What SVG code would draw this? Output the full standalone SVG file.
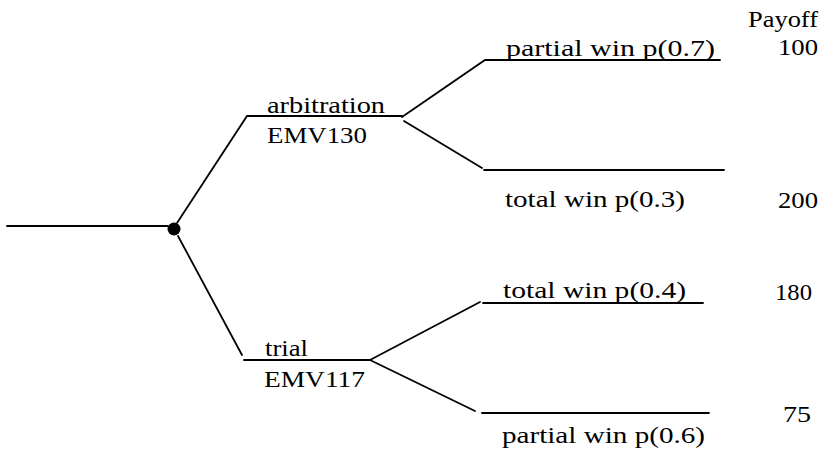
<svg xmlns="http://www.w3.org/2000/svg" width="823" height="460" viewBox="0 0 823 460">
  <style>
    .edge { stroke: #000; stroke-width: 1.8; fill: none; stroke-linecap: round; }
    text { font-family: "Liberation Serif", "Times New Roman", Times, serif; font-size: 24px; fill: #000; }
  </style>
  <rect width="823" height="460" fill="#fff"/>

  <!-- branches of the decision tree -->
  <g id="connectors">
    <path class="edge" d="M7,226 H168"/>
    <path class="edge" d="M177,223 L247,116 H402"/>
    <path class="edge" d="M178,236 L242,355"/>
    <path class="edge" d="M244,360 H370"/>
    <path class="edge" d="M402,117 L485,60 H720"/>
    <path class="edge" d="M404,121 L482,168"/>
    <path class="edge" d="M484,170 H724"/>
    <path class="edge" d="M370,360 L480,302"/>
    <path class="edge" d="M483,303 H703"/>
    <path class="edge" d="M370,360 L475,411"/>
    <path class="edge" d="M482,413 H709"/>
  </g>

  <!-- decision point -->
  <g id="decision">
    <circle cx="174" cy="229" r="6.5" fill="#000"/>
  </g>

  <!-- option: arbitration -->
  <g id="arbitration">
    <text x="267" y="113" textLength="118" lengthAdjust="spacingAndGlyphs">arbitration</text>
    <text x="267" y="143" textLength="100" lengthAdjust="spacingAndGlyphs">EMV130</text>
  </g>

  <!-- option: trial -->
  <g id="trial">
    <text x="265" y="356" textLength="43" lengthAdjust="spacingAndGlyphs">trial</text>
    <text x="264" y="387" textLength="101" lengthAdjust="spacingAndGlyphs">EMV117</text>
  </g>

  <!-- outcomes -->
  <g id="arb-partial">
    <text x="506" y="56" textLength="209" lengthAdjust="spacingAndGlyphs">partial win p(0.7)</text>
  </g>
  <g id="arb-total">
    <text x="505" y="207" textLength="180" lengthAdjust="spacingAndGlyphs">total win p(0.3)</text>
  </g>
  <g id="trial-total">
    <text x="503" y="298" textLength="183" lengthAdjust="spacingAndGlyphs">total win p(0.4)</text>
  </g>
  <g id="trial-partial">
    <text x="502" y="443" textLength="203" lengthAdjust="spacingAndGlyphs">partial win p(0.6)</text>
  </g>

  <!-- payoff column -->
  <g id="payoff">
    <text x="748" y="27" textLength="70" lengthAdjust="spacingAndGlyphs">Payoff</text>
    <text x="778" y="55" textLength="40" lengthAdjust="spacingAndGlyphs">100</text>
    <text x="778" y="208" textLength="40" lengthAdjust="spacingAndGlyphs">200</text>
    <text x="775" y="300" textLength="37" lengthAdjust="spacingAndGlyphs">180</text>
    <text x="783" y="422" textLength="28" lengthAdjust="spacingAndGlyphs">75</text>
  </g>
</svg>
